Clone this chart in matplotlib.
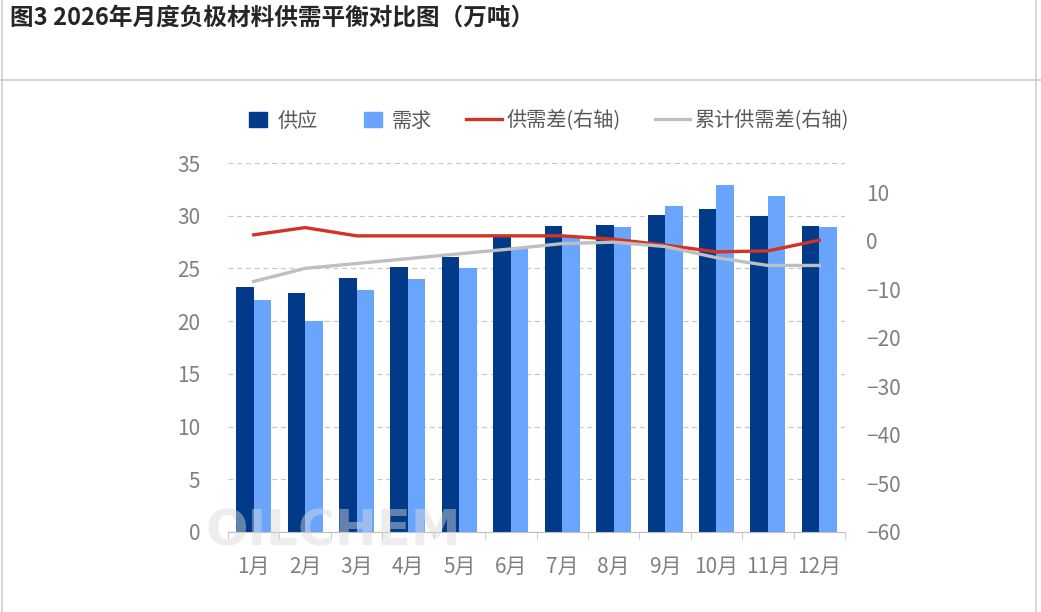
import matplotlib
matplotlib.use("Agg")
import matplotlib.pyplot as plt
from matplotlib.lines import Line2D
from matplotlib.patches import Patch, Rectangle
from matplotlib.legend_handler import HandlerPatch
import numpy as np

plt.rcParams['font.family'] = ['Noto Sans CJK SC', 'DejaVu Sans']

# 数据（万吨）
months = ['1月', '2月', '3月', '4月', '5月', '6月', '7月', '8月', '9月', '10月', '11月', '12月']
supply = [23.2, 22.7, 24.1, 25.1, 26.1, 28.0, 29.0, 29.1, 30.1, 30.6, 30.0, 29.0]
demand = [22.0, 20.0, 23.0, 24.0, 25.0, 27.0, 28.0, 28.9, 30.9, 32.9, 31.9, 28.9]
gap = [1.2, 2.7, 1.0, 1.0, 1.0, 1.0, 1.0, 0.3, -0.9, -2.3, -2.1, 0.1]
cum_gap = [-8.4, -5.7, -4.7, -3.7, -2.7, -1.7, -0.6, -0.3, -1.2, -3.5, -5.1, -5.1]

c_supply = '#023a8a'
c_demand = '#69a5fd'
c_gap = '#d23325'
c_cum = '#bfbfbf'
c_tick = '#808080'

fig = plt.figure(figsize=(10.41, 6.12), dpi=100)
ax = fig.add_axes([228 / 1041, 1 - 532 / 612, 617 / 1041, 369 / 612])
ax2 = ax.twinx()

x = np.arange(len(months))
w = 0.34
ax.bar(x - w / 2, supply, w, color=c_supply, zorder=2)
ax.bar(x + w / 2, demand, w, color=c_demand, zorder=2)
ax2.plot(x, gap, color=c_gap, lw=2.4, zorder=3)
ax2.plot(x, cum_gap, color=c_cum, lw=2.4, zorder=3)

ax.set_xlim(-0.5, len(months) - 0.5)
ax.set_ylim(0, 35)
ax.set_yticks(range(0, 36, 5))
ax2.set_ylim(-60, 16)
ax2.set_yticks(range(-60, 11, 10))

ax.yaxis.grid(True, color='#c8c8c8', ls=(0, (4, 3)), lw=0.9)
ax.set_axisbelow(True)
for a in (ax, ax2):
    for s in ('top', 'left', 'right'):
        a.spines[s].set_visible(False)
    a.spines['bottom'].set_color('#bfbfbf')
ax2.spines['bottom'].set_visible(False)

ax.set_xticks(x)
ax.set_xticklabels(months)
ax.set_xticks(np.arange(-0.5, len(months)), minor=True)
ax.tick_params(axis='x', which='major', length=0, pad=17, labelsize=15, labelcolor=c_tick)
ax.tick_params(axis='x', which='minor', length=5, color='#bfbfbf')
ax.tick_params(axis='y', length=0, pad=20, labelsize=15, labelcolor=c_tick)
ax2.tick_params(axis='y', length=0, pad=15, labelsize=15, labelcolor=c_tick)


def small_box(legend, orig_handle, xdescent, ydescent, width, height, fontsize):
    return Rectangle((-xdescent + width * 0.35, -ydescent), width * 0.5, height)


handles = [
    Patch(color=c_supply, label='供应'),
    Patch(color=c_demand, label='需求'),
    Line2D([], [], color=c_gap, lw=2.4, label='供需差(右轴)'),
    Line2D([], [], color=c_cum, lw=2.4, label='累计供需差(右轴)'),
]
leg = fig.legend(handles=handles, loc='center', bbox_to_anchor=(0.522, 1 - 121 / 612),
                 ncol=4, frameon=False, fontsize=14.5, handlelength=1.75, handleheight=0.8,
                 columnspacing=1.7, handletextpad=0.25,
                 handler_map={Patch: HandlerPatch(patch_func=small_box)})
for t in leg.get_texts():
    t.set_color('#595959')

# 水印
fig.text(333 / 1041, 1 - 531 / 612, 'OILCHEM', fontsize=36, fontweight='bold',
         color='#d9d9d9', alpha=0.45, ha='center', va='center', family='DejaVu Sans')

# 标题和边框
fig.text(10 / 1041, 1 - 18 / 612, '图3 2026年月度负极材料供需平衡对比图（万吨）',
         fontsize=17, fontweight='bold', color='#262626', ha='left', va='center')
fig.add_artist(Line2D([0, 1], [1 - 80 / 612, 1 - 80 / 612], color='#d0d0d0', lw=1.2))
fig.add_artist(Line2D([2 / 1041, 2 / 1041], [0, 1], color='#d0d0d0', lw=1.2))
fig.add_artist(Line2D([1036 / 1041, 1036 / 1041], [0, 1], color='#d0d0d0', lw=1.2))

fig.savefig('out.png', dpi=100)
